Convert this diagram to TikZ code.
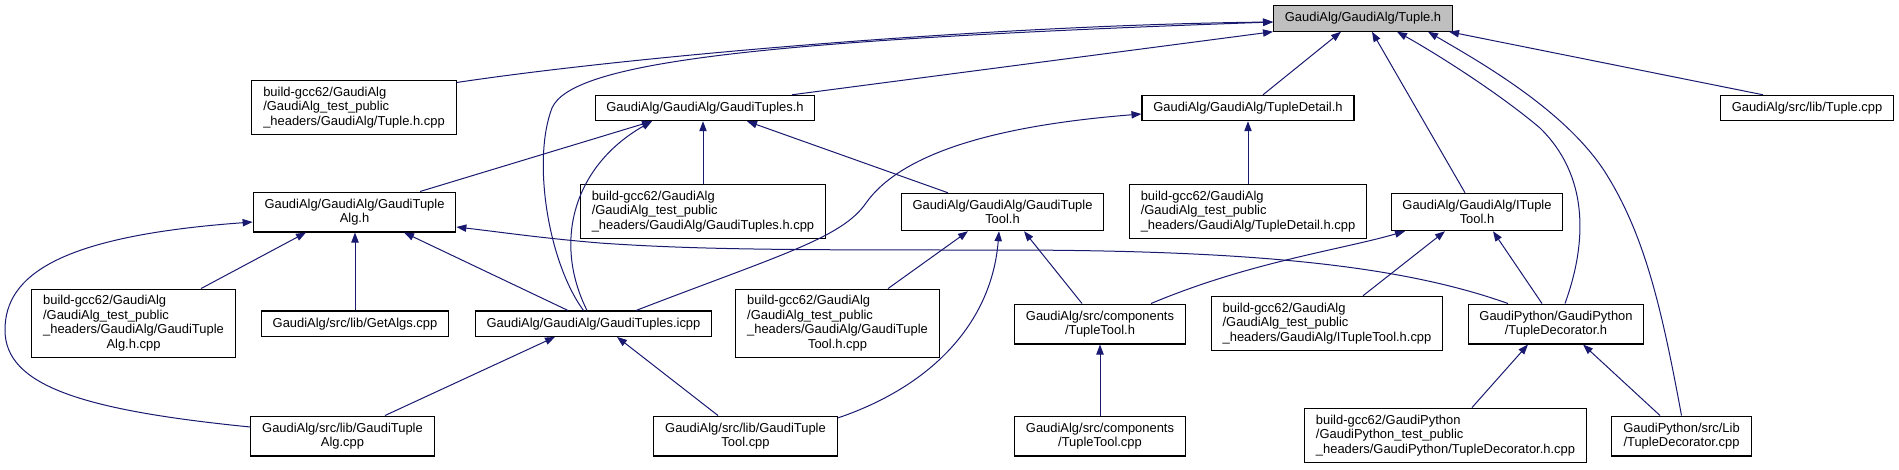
\documentclass[tikz,border=0pt]{standalone}
\usepackage{fontspec}
\setmainfont{Liberation Sans}
\usetikzlibrary{arrows.meta,calc}
\definecolor{incblue}{RGB}{25,25,112}
\definecolor{curgray}{RGB}{191,191,191}

\begin{document}
\begin{tikzpicture}[x=0.75pt,y=0.75pt,yscale=-1,
  filebox/.style={draw=black,line width=0.8pt,fill=white,inner xsep=8.5pt,inner ysep=5pt,font=\fontsize{9.7}{10.9}\selectfont},
  curbox/.style={filebox,fill=curgray},
  incl/.style={draw=incblue,line width=0.75pt,-{Triangle[length=7.5pt,width=5.5pt]}}]
\useasboundingbox (0,0) rectangle (1899,469);
% Text Node
\node[curbox] (tupleh) at (1363,18.5) {GaudiAlg/GaudiAlg/Tuple.h};
% Text Node
\node[filebox,align=left] (tuplehcpp) at (354,107.5) {build-gcc62/GaudiAlg\\/GaudiAlg\_test\_public\\\_headers/GaudiAlg/Tuple.h.cpp};
% Text Node
\node[filebox] (gtuplesh) at (705,108) {GaudiAlg/GaudiAlg/GaudiTuples.h};
% Text Node
\node[filebox] (tdetailh) at (1248,108) {GaudiAlg/GaudiAlg/TupleDetail.h};
% Text Node
\node[filebox] (tuplecpp) at (1807,108) {GaudiAlg/src/lib/Tuple.cpp};
% Text Node
\node[filebox,align=center] (gtalgh) at (354.5,212) {GaudiAlg/GaudiAlg/GaudiTuple\\Alg.h};
% Text Node
\node[filebox,align=left] (gtuplescpp) at (703,211.5) {build-gcc62/GaudiAlg\\/GaudiAlg\_test\_public\\\_headers/GaudiAlg/GaudiTuples.h.cpp};
% Text Node
\node[filebox,align=center] (gttoolh) at (1002.5,212) {GaudiAlg/GaudiAlg/GaudiTuple\\Tool.h};
% Text Node
\node[filebox,align=left] (tdetailcpp) at (1248,211.5) {build-gcc62/GaudiAlg\\/GaudiAlg\_test\_public\\\_headers/GaudiAlg/TupleDetail.h.cpp};
% Text Node
\node[filebox,align=center] (itoolh) at (1477,212) {GaudiAlg/GaudiAlg/ITuple\\Tool.h};
% Text Node
\node[filebox,inner ysep=4pt] (gtalghcpp) at (133.5,323.5) {\begin{tabular}{@{}l@{}}build-gcc62/GaudiAlg\\/GaudiAlg\_test\_public\\\_headers/GaudiAlg/GaudiTuple\\\multicolumn{1}{@{}c@{}}{Alg.h.cpp}\end{tabular}};
% Text Node
\node[filebox] (getalgs) at (355,323.7) {GaudiAlg/src/lib/GetAlgs.cpp};
% Text Node
\node[filebox] (gtuplesicpp) at (593.5,323.7) {GaudiAlg/GaudiAlg/GaudiTuples.icpp};
% Text Node
\node[filebox,inner ysep=4pt] (gttoolhcpp) at (837.5,323.5) {\begin{tabular}{@{}l@{}}build-gcc62/GaudiAlg\\/GaudiAlg\_test\_public\\\_headers/GaudiAlg/GaudiTuple\\\multicolumn{1}{@{}c@{}}{Tool.h.cpp}\end{tabular}};
% Text Node
\node[filebox,align=center] (ttoolh) at (1100,324) {GaudiAlg/src/components\\/TupleTool.h};
% Text Node
\node[filebox,align=left] (itoolhcpp) at (1327,323.5) {build-gcc62/GaudiAlg\\/GaudiAlg\_test\_public\\\_headers/GaudiAlg/ITupleTool.h.cpp};
% Text Node
\node[filebox,align=center] (tdech) at (1556,324) {GaudiPython/GaudiPython\\/TupleDecorator.h};
% Text Node
\node[filebox,align=center] (gtalgcpp) at (342.5,436) {GaudiAlg/src/lib/GaudiTuple\\Alg.cpp};
% Text Node
\node[filebox,align=center] (gttoolcpp) at (745.5,436) {GaudiAlg/src/lib/GaudiTuple\\Tool.cpp};
% Text Node
\node[filebox,align=center] (ttoolcpp) at (1100,436) {GaudiAlg/src/components\\/TupleTool.cpp};
% Text Node
\node[filebox,align=left] (tdechcpp) at (1445.5,435.3) {build-gcc62/GaudiPython\\/GaudiPython\_test\_public\\\_headers/GaudiPython/TupleDecorator.h.cpp};
% Text Node
\node[filebox,align=center] (tdeccpp) at (1681.5,436) {GaudiPython/src/Lib\\/TupleDecorator.cpp};

%Curve Lines
\draw[incl] ($(tuplehcpp.east)+(0,-25)$) .. controls (640,55) and (1000,25) .. ($(tupleh.west)+(0,3.5)$);
%Curve Lines
\draw[incl] ($(gtuplesicpp.north)+(-10,0)$) .. controls (548,262) and (532,160) .. (552,108) .. controls (572,62) and (760,40) .. ($(tupleh.west)+(0,3.5)$);
%Straight Lines
\draw[incl] ($(gtuplesh.north)+(87,0)$) -- (tupleh.south west);
%Straight Lines
\draw[incl] ($(tdetailh.north)+(15,0)$) -- ($(tupleh.south)+(-22,0)$);
%Straight Lines
\draw[incl] ($(itoolh.north)+(-12,0)$) -- ($(tupleh.south)+(9,0)$);
%Curve Lines
\draw[incl] ($(tdech.north)+(9,0)$) .. controls (1588,240) and (1588,175) .. (1540,128) .. controls (1495,90) and (1430,50) .. ($(tupleh.south)+(34,0)$);
%Curve Lines
\draw[incl] (tdeccpp.north) .. controls (1662,310) and (1645,235) .. (1605,172) .. controls (1565,110) and (1480,62) .. ($(tupleh.south)+(65,0)$);
%Straight Lines
\draw[incl] ($(tuplecpp.north)+(-44,0)$) -- ($(tupleh.south)+(86,0)$);

%Straight Lines
\draw[incl] ($(gtalgh.north)+(65.5,0)$) -- ($(gtuplesh.south)+(-53,0)$);
%Curve Lines
\draw[incl] ($(gtuplesicpp.north)+(-6.5,0)$) .. controls (552,240) and (575,165) .. ($(gtuplesh.south)+(-53,0)$);
%Straight Lines
\draw[incl] (gtuplescpp.north) -- (gtuplescpp.north |- gtuplesh.south);
%Straight Lines
\draw[incl] ($(gttoolh.north)+(-54.5,0)$) -- ($(gtuplesh.south)+(42,0)$);

%Straight Lines
\draw[incl] (tdetailcpp.north) -- (tdetailh.south);
%Curve Lines
\draw[incl] ($(gtuplesicpp.north)+(42.5,0)$) .. controls (780,255) and (842,238) .. (866,203) .. controls (900,155) and (990,126) .. ($(tdetailh.west)+(0,6)$);

%Straight Lines
\draw[incl] ($(gtalghcpp.north)+(67.5,0)$) -- ($(gtalgh.south)+(-48.5,0)$);
%Straight Lines
\draw[incl] (getalgs.north) -- (getalgs.north |- gtalgh.south);
%Straight Lines
\draw[incl] ($(gtuplesicpp.north)+(-25.5,0)$) -- ($(gtalgh.south)+(49.5,0)$);
%Curve Lines
\draw[incl] ($(gtalgcpp.west)+(0,-9)$) .. controls (80,410) and (5,385) .. (5,330) .. controls (5,275) and (60,236) .. ($(gtalgh.west)+(0,10)$);
%Curve Lines
\draw[incl] ($(tdech.north)+(-48,0)$) .. controls (1400,265) and (1250,250) .. (1000,250) .. controls (800,250) and (700,250) .. (600,243) .. controls (540,238) and (500,232) .. ($(gtalgh.east)+(0,15)$);

%Straight Lines
\draw[incl] ($(gttoolhcpp.north)+(50.5,0)$) -- ($(gttoolh.south)+(-34.5,0)$);
%Curve Lines
\draw[incl] ($(gttoolcpp.east)+(0,-18)$) .. controls (935,385) and (992,320) .. ($(gttoolh.south)+(-3.5,0)$);
%Straight Lines
\draw[incl] ($(ttoolh.north)+(-18,0)$) -- ($(gttoolh.south)+(21.5,0)$);

%Curve Lines
\draw[incl] ($(ttoolh.north)+(51,0)$) .. controls (1250,262) and (1340,250) .. ($(itoolh.south)+(-72,0)$);
%Straight Lines
\draw[incl] ($(itoolhcpp.north)+(36,0)$) -- ($(itoolh.south)+(-32,0)$);
%Straight Lines
\draw[incl] ($(tdech.north)+(-14,0)$) -- ($(itoolh.south)+(16,0)$);

%Straight Lines
\draw[incl] ($(gtalgcpp.north)+(42.5,0)$) -- ($(gtuplesicpp.south)+(-38.5,0)$);
%Straight Lines
\draw[incl] ($(gttoolcpp.north)+(-27.5,0)$) -- ($(gtuplesicpp.south)+(23.5,0)$);

%Straight Lines
\draw[incl] (ttoolcpp.north) -- (ttoolh.south);

%Straight Lines
\draw[incl] ($(tdechcpp.north)+(26.5,0)$) -- ($(tdech.south)+(-28,0)$);
%Straight Lines
\draw[incl] ($(tdeccpp.north)+(-21.5,0)$) -- ($(tdech.south)+(27,0)$);
\end{tikzpicture}
\end{document}
